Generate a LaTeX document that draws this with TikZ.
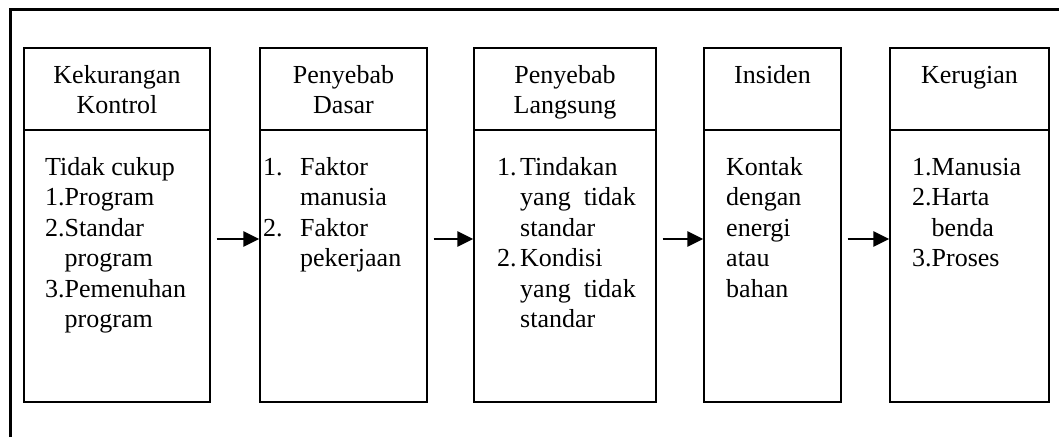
\documentclass[tikz,border=0pt]{standalone}
\usepackage{fontspec}
\setmainfont{Liberation Serif}
\usetikzlibrary{arrows.meta}
\begin{document}
\begin{tikzpicture}[x=1pt,y=-1pt,
  stagebox/.style={draw,line width=1.3pt,minimum width=#1,minimum height=354pt,inner sep=0pt},
  divider/.style={line width=1.3pt},
  head/.style={anchor=base,align=center,inner sep=0pt,font=\fontsize{26}{30.5}\selectfont},
  body/.style={anchor=base west,align=left,inner sep=0pt,font=\fontsize{26}{30.5}\selectfont},
  arr/.style={line width=2.6pt,-{Triangle[length=16pt,width=15pt]},shorten <=6pt},
  frameline/.style={line width=3.4pt}]
\useasboundingbox (0,0) rectangle (1059,437);
\draw[frameline] (10.5,437) -- (10.5,9.5) -- (1059,9.5);

\node[stagebox=186pt] (b1) at (117,225) {};
\node[stagebox=167pt] (b2) at (343.5,225) {};
\node[stagebox=182pt] (b3) at (565,225) {};
\node[stagebox=137pt] (b4) at (772.5,225) {};
\node[stagebox=159pt] (b5) at (969.5,225) {};

\coordinate (dv) at (0,130);
\coordinate (ay) at (0,239);
\foreach \b in {b1,b2,b3,b4,b5}{
  \draw[divider] (\b.west |- dv) -- (\b.east |- dv);
}

% base anchor of a multi-line node is the baseline of its last line
\node[head] (h1) at (117,113.5) {Kekurangan\\Kontrol};
\node[head] (h2) at (343.5,113.5) {Penyebab\\Dasar};
\node[head] (h3) at (565,113.5) {Penyebab\\Langsung};
\node[head] (h4) at (772.5,83) {Insiden};
\node[head] (h5) at (969.5,83) {Kerugian};

\node[body] (t1) at (45,327.5) {Tidak cukup\\1.Program\\2.Standar\\\phantom{2.}program\\3.Pemenuhan\\\phantom{3.}program};
\node[body] (t2) at (263,266.5) {\makebox[37pt][l]{1.}Faktor\\\hspace*{37pt}manusia\\\makebox[37pt][l]{2.}Faktor\\\hspace*{37pt}pekerjaan};
\node[body] (t3) at (497,327.5) {\makebox[23pt][l]{1.}Tindakan\\\hspace*{23pt}yang\hspace{0.5em}tidak\\\hspace*{23pt}standar\\\makebox[23pt][l]{2.}Kondisi\\\hspace*{23pt}yang\hspace{0.5em}tidak\\\hspace*{23pt}standar};
\node[body] (t4) at (726,297) {Kontak\\dengan\\energi\\atau\\bahan};
\node[body] (t5) at (912,266.5) {1.Manusia\\2.Harta\\\phantom{2.}benda\\3.Proses};

\draw[arr] (b1.east |- ay) -- (b2.west |- ay);
\draw[arr] (b2.east |- ay) -- (b3.west |- ay);
\draw[arr] (b3.east |- ay) -- (b4.west |- ay);
\draw[arr] (b4.east |- ay) -- (b5.west |- ay);
\end{tikzpicture}
\end{document}
